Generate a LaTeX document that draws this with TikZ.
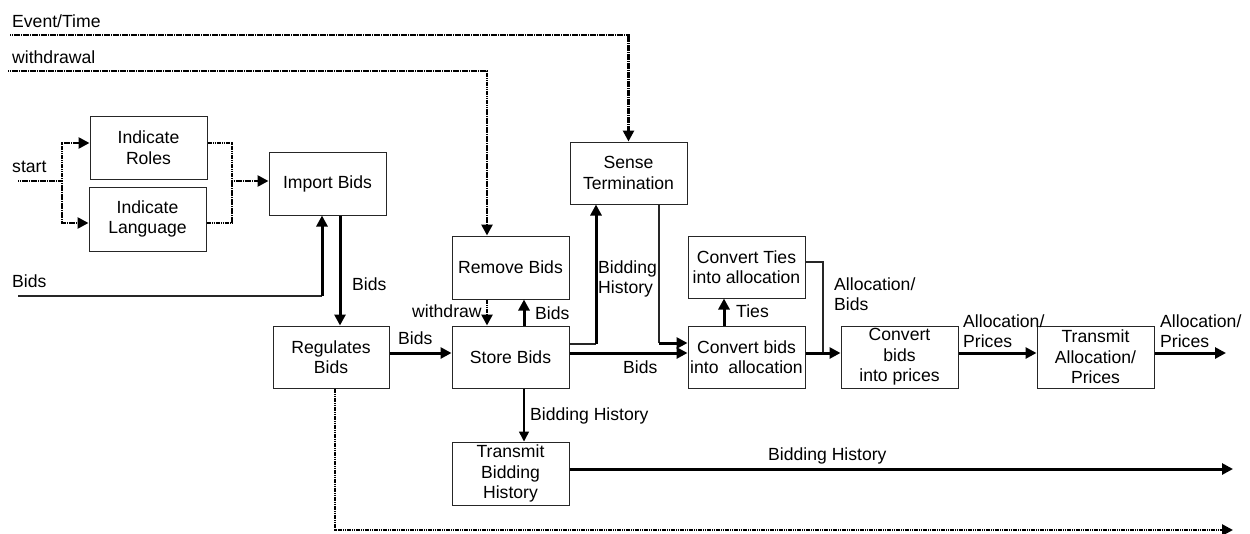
\documentclass[tikz,border=0pt]{standalone}
\usepackage{fontspec}
\setmainfont{Liberation Sans}
\usetikzlibrary{arrows.meta}
% two-line label whose baseline is the first line
\newcommand\twolines[2]{\begin{tabular}[t]{@{}l@{}}#1\\#2\end{tabular}}
\begin{document}
\begin{tikzpicture}[x=1pt,y=-1pt,
  txt/.style={font=\fontsize{17.6}{20.5}\selectfont},
  box/.style={txt, draw=black!85, line width=1pt, minimum width=117pt,
    minimum height=62pt, inner sep=0pt, align=center},
  lbl/.style={txt, anchor=base west, inner sep=0pt},
  heavy/.style={line width=3pt, black},
  fine/.style={line width=1.2pt, black!85},
  dots/.style={line width=2.6pt, black, dash pattern=on 1.3pt off 0.5pt},
  tip/.style={-{Triangle[length=11pt,width=11pt]}},
  smalltip/.style={-{Triangle[length=10pt,width=10pt]}}
]
\useasboundingbox (0,0) rectangle (1250,533);

% processing steps
\node[box, minimum height=63pt] (roles)    at (148.5,147.5) {Indicate\\Roles};
\node[box, minimum height=64pt] (lang)     at (147.5,219)   {Indicate\\Language};
\node[box, minimum height=63pt] (import)   at (327.5,183.5) {Import Bids};
\node[box, minimum width=116pt] (regulate) at (331,357)     {Regulates\\Bids};
\node[box, minimum height=63pt] (remove)   at (510.5,267.5) {Remove Bids};
\node[box] (store)    at (510.5,357)   {Store Bids};
\node[box] (sense)    at (628.5,173)   {Sense\\Termination};
\node[box] (ties)     at (746.5,267)   {Convert Ties\\into allocation};
\node[box] (alloc)    at (746.5,357)   {Convert bids\\into~~allocation};
\node[box] (prices)   at (899.5,357)   {Convert\\bids\\into prices};
\node[box] (transmit) at (1095.5,357)  {Transmit\\Allocation/\\Prices};
\node[box, minimum height=63pt] (tbh) at (510.5,473.5) {Transmit\\Bidding\\History};

% free ends and bends
\coordinate (s0)  at (18,181);
\coordinate (sj)  at (62,181);
\coordinate (jn)  at (232,181);
\coordinate (ev0) at (10,35);
\coordinate (wd0) at (8,71);
\coordinate (bd0) at (18,296);
\coordinate (bdj) at (322,296);
\coordinate (sb)  at (596,344);
\coordinate (tj)  at (659,343);
\coordinate (aj)  at (823,353);
\coordinate (ao)  at (1226,353);
\coordinate (bo)  at (1233,469);
\coordinate (ro)  at (1233,530);

% inputs
\draw[dots] (s0) -- (sj);
\draw[dots,tip] (sj) |- ([yshift=4.5pt]roles.west);
\draw[dots,tip] (sj) |- ([yshift=-4pt]lang.west);
\draw[dots] ([yshift=4.5pt]roles.east) -| (jn);
\draw[dots] ([yshift=-4pt]lang.east) -| (jn);
\draw[dots,tip] (jn) -- (import.west |- jn);
\draw[dots,tip] (ev0) -| (sense.north);
\draw[dots,tip] (wd0) -| ([xshift=-23.5pt]remove.north);
\draw[fine] (bd0) -- (bdj);
\draw[heavy,tip] (bdj) -- (import.south -| bdj);

% main flow
\draw[heavy,tip] ([xshift=12.5pt]import.south) -- ([xshift=12.5pt]import.south |- regulate.north);
\draw[heavy,tip] ([yshift=4pt]regulate.east) -- ([yshift=4pt]store.west);
\draw[dots,tip] ([xshift=-23.5pt]remove.south) -- ([xshift=-23.5pt]store.north);
\draw[heavy,tip] ([xshift=13.5pt]store.north) -- ([xshift=13.5pt]remove.south);
\draw[fine] ([yshift=13pt]store.east) -- (sb);
\draw[heavy,tip] (sb) -- (sense.south -| sb);
\draw[heavy,tip] ([yshift=4pt]store.east) -- ([yshift=4pt]alloc.west);
\draw[fine] (sense.south -| tj) -- (tj);
\draw[heavy,tip] (tj) -- (alloc.west |- tj);
\draw[heavy,tip] ([xshift=-22.5pt]alloc.north) -- ([xshift=-22.5pt]ties.south);
\draw[fine] ([yshift=5pt]ties.east) -| (aj);
\draw[heavy,tip] ([yshift=4pt]alloc.east) -- ([yshift=4pt]prices.west);
\draw[heavy,tip] ([yshift=4pt]prices.east) -- ([yshift=4pt]transmit.west);
\draw[heavy,tip] ([yshift=4pt]transmit.east) -- (ao);

% outputs below
\draw[line width=1.5pt, black, smalltip] ([xshift=13.5pt]store.south) -- ([xshift=13.5pt]store.south |- tbh.north);
\draw[heavy,tip] ([yshift=4.5pt]tbh.east) -- (bo);
\draw[dots,tip] ([xshift=4pt]regulate.south) |- (ro);

% labels
\node[lbl] (l-event)  at (12,27)   {Event/Time};
\node[lbl] (l-wd)     at (12,63)   {withdrawal};
\node[lbl] (l-start)  at (12,172)  {start};
\node[lbl] (l-bids0)  at (12,287)  {Bids};
\node[lbl] (l-bids1)  at (352,290) {Bids};
\node[lbl] (l-bids2)  at (398,344) {Bids};
\node[lbl] (l-withd)  at (412,317) {withdraw};
\node[lbl] (l-bids3)  at (535,319) {Bids};
\node[lbl] (l-hist1)  at (598,273) {\twolines{Bidding}{History}};
\node[lbl] (l-bids4)  at (623,373) {Bids};
\node[lbl] (l-ties)   at (736,317) {Ties};
\node[lbl] (l-ab)     at (834,290) {\twolines{Allocation/}{Bids}};
\node[lbl] (l-ap1)    at (963,327) {\twolines{Allocation/}{Prices}};
\node[lbl] (l-ap2)    at (1160,327) {\twolines{Allocation/}{Prices}};
\node[lbl] (l-hist2)  at (530,420) {Bidding History};
\node[lbl] (l-hist3)  at (768,460) {Bidding History};
\end{tikzpicture}
\end{document}
